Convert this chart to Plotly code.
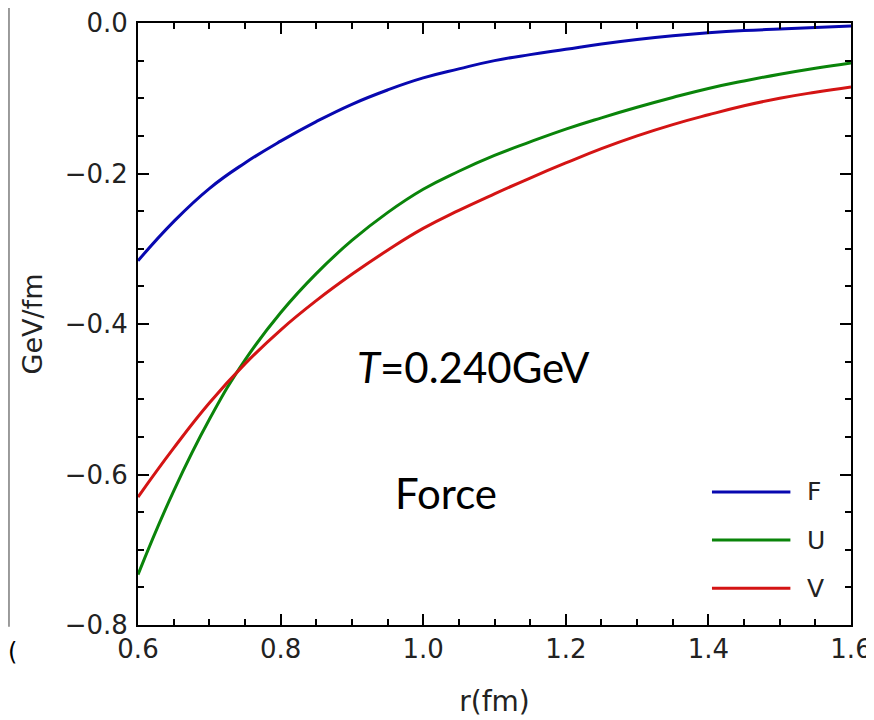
import plotly.graph_objects as go

r_fm = [0.60, 0.65, 0.70, 0.75, 0.80, 0.85, 0.90, 0.95, 1.00, 1.05, 1.10,
        1.15, 1.20, 1.25, 1.30, 1.35, 1.40, 1.45, 1.50, 1.55, 1.60]
force_F = [-0.316, -0.264, -0.220, -0.186, -0.157, -0.131, -0.108, -0.089, -0.073, -0.061, -0.050,
           -0.042, -0.035, -0.028, -0.022, -0.017, -0.013, -0.010, -0.008, -0.006, -0.004]
force_U = [-0.733, -0.622, -0.527, -0.448, -0.385, -0.333, -0.289, -0.252, -0.221, -0.197, -0.176,
           -0.158, -0.141, -0.126, -0.112, -0.099, -0.087, -0.077, -0.068, -0.060, -0.053]
force_V = [-0.630, -0.565, -0.505, -0.453, -0.408, -0.369, -0.334, -0.302, -0.273, -0.249, -0.227,
           -0.206, -0.186, -0.167, -0.150, -0.135, -0.122, -0.110, -0.100, -0.092, -0.085]

series_names = ["F", "U", "V"]
series_colors = ["#0808b0", "#0a840a", "#d41414"]
x_ticks = [0.6, 0.8, 1.0, 1.2, 1.4, 1.6]
x_ticklabels = ["0.6", "0.8", "1.0", "1.2", "1.4", "1.6"]
y_ticks = [0.0, -0.2, -0.4, -0.6, -0.8]
y_ticklabels = ["0.0", "\u22120.2", "\u22120.4", "\u22120.6", "\u22120.8"]

fig = go.Figure()
for name, ys, col in zip(series_names, [force_F, force_U, force_V], series_colors):
    fig.add_trace(go.Scatter(x=r_fm, y=ys, mode="lines", name=name,
                             line=dict(color=col, width=3, shape="spline", smoothing=1.3),
                             showlegend=False))

tickfont = dict(family="DejaVu Sans", size=26, color="#222")
axis_common = dict(showgrid=False, zeroline=False, showline=True, linecolor="black", linewidth=2,
                   mirror="allticks", ticks="inside", ticklen=11, tickwidth=2, tickcolor="black",
                   tickfont=tickfont, automargin=False)
fig.update_xaxes(range=[0.6, 1.6], tickvals=x_ticks, ticktext=x_ticklabels,
                 minor=dict(ticks="inside", ticklen=6, tickwidth=1.5, tickcolor="black", dtick=0.05, tick0=0.6),
                 title=dict(text="r(fm)", font=dict(family="DejaVu Sans", size=28, color="#222"), standoff=28),
                 ticklabelstandoff=0, **axis_common)
fig.update_yaxes(range=[-0.8, 0.0], tickvals=y_ticks, ticktext=y_ticklabels,
                 minor=dict(ticks="inside", ticklen=6, tickwidth=1.5, tickcolor="black", dtick=0.05, tick0=0),
                 title=dict(text="GeV/fm", font=dict(family="DejaVu Sans", size=27, color="#222"), standoff=14),
                 ticklabelstandoff=3, **axis_common)

# manual legend
leg_y = [0.221, 0.141, 0.061]
for name, col, yy in zip(series_names, series_colors, leg_y):
    fig.add_shape(type="line", xref="paper", yref="paper", x0=0.805, x1=0.915, y0=yy, y1=yy,
                  line=dict(color=col, width=3))
    fig.add_annotation(xref="paper", yref="paper", x=0.935, y=yy, text=name, showarrow=False,
                       xanchor="left", yanchor="middle",
                       font=dict(family="DejaVu Sans", size=25, color="#222"))

fig.add_annotation(xref="paper", yref="paper", x=0.471, y=0.429, text="<i>T</i>=0.240GeV",
                   showarrow=False, xanchor="center", yanchor="middle",
                   font=dict(family="Lato", size=42, color="black"))
fig.add_annotation(xref="paper", yref="paper", x=0.432, y=0.220, text="Force",
                   showarrow=False, xanchor="center", yanchor="middle",
                   font=dict(family="Lato", size=42, color="black"))

# cropped-edge artifacts from the source image
fig.add_shape(type="line", xref="paper", yref="paper", x0=-0.181, x1=-0.181, y0=1.03, y1=-0.003,
              line=dict(color="#999", width=2))
fig.add_annotation(xref="paper", yref="paper", x=-0.176, y=-0.045, text="(", showarrow=False,
                   xanchor="center", yanchor="middle",
                   font=dict(family="DejaVu Sans", size=24, color="black"))

# page body has an 8px default margin, so the figure is 8px smaller and margins shifted
fig.update_layout(width=866, height=712, plot_bgcolor="white", paper_bgcolor="white",
                  margin=dict(l=130, r=23, t=15, b=95), showlegend=False)

fig.write_html("out.html")
